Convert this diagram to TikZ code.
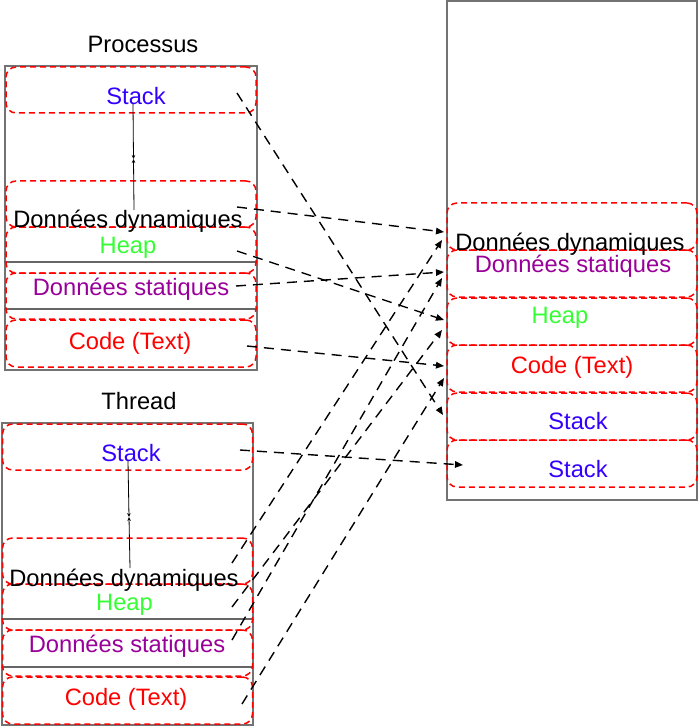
\documentclass[tikz,border=0pt]{standalone}
\usepackage{fontspec}
\setmainfont{Liberation Sans}
\usetikzlibrary{arrows.meta}
\definecolor{stk}{HTML}{3300FF}
\definecolor{hp}{HTML}{33FF33}
\definecolor{dst}{HTML}{990099}
\definecolor{cd}{HTML}{FF0000}
\begin{document}
\begin{tikzpicture}[x=1pt,y=-1pt,
  outer/.style={draw=black!55,line width=1.1pt},
  sepline/.style={draw=black!60,line width=1.1pt},
  seg/.style={draw=red,dash pattern=on 6pt off 4pt,line width=1.5pt,rounded corners=10pt,
              minimum width=250pt,inner sep=0pt,outer sep=0pt},
  lbl/.style={anchor=base,inner sep=0pt,font=\fontsize{23.7}{28}\selectfont},
  link/.style={draw=black,line width=1.4pt,dash pattern=on 10pt off 7pt,-{Triangle[length=8pt,width=6.5pt]}},
  growarrow/.style={draw=black,line width=0.8pt,-{Stealth[length=4pt,width=3.5pt]}}]
\useasboundingbox (0,0) rectangle (699,727);

% ---------------- Processus ----------------
\node[lbl] (tP) at (143,53) {Processus};
\node[outer,minimum width=252pt,minimum height=304pt,inner sep=0pt] (pBox) at (131,218) {};
\draw[sepline] (pBox.west |- 0,262) -- (pBox.east |- 0,262);
\draw[sepline] (pBox.west |- 0,309) -- (pBox.east |- 0,309);
\node[seg,minimum height=46pt] (pS) at (131,90) {};
\node[seg,minimum height=46pt] (pD) at (131,204) {};
\node[seg,minimum height=46pt] (pH) at (131,250) {};
\node[seg,minimum height=46pt] (pT) at (131,296) {};
\node[seg,minimum height=47pt] (pC) at (131,343.5) {};
\node[lbl,text=stk] (pSl) at (136,104.5) {Stack};
\node[lbl] (pDl) at (128,227) {Données dynamiques};
\node[lbl,text=hp] (pHl) at (128,253) {Heap};
\node[lbl,text=dst] (pTl) at (131,295) {Données statiques};
\node[lbl,text=cd] (pCl) at (130,349) {Code (Text)};
\coordinate (pG) at (133.5,159);
\draw[growarrow] (133,104) -- (pG);
\draw[growarrow] (134,210) -- (pG);

% ---------------- Thread ----------------
\node[lbl] (tT) at (139,409) {Thread};
\node[outer,minimum width=251pt,minimum height=302pt,inner sep=0pt] (tBox) at (127.5,574) {};
\draw[sepline] (tBox.west |- 0,619) -- (tBox.east |- 0,619);
\draw[sepline] (tBox.west |- 0,667) -- (tBox.east |- 0,667);
\node[seg,minimum height=46pt] (tS) at (127.5,447) {};
\node[seg,minimum height=46pt] (tD) at (127.5,561) {};
\node[seg,minimum height=46pt] (tH) at (127.5,607) {};
\node[seg,minimum height=46pt] (tTs) at (127.5,653) {};
\node[seg,minimum height=47pt] (tC) at (127.5,700.5) {};
\node[lbl,text=stk] (tSl) at (131,461) {Stack};
\node[lbl] (tDl) at (124,586) {Données dynamiques};
\node[lbl,text=hp] (tHl) at (124.5,610.5) {Heap};
\node[lbl,text=dst] (tTl) at (127,652) {Données statiques};
\node[lbl,text=cd] (tCl) at (126,705.5) {Code (Text)};
\coordinate (tG) at (129,517);
\draw[growarrow] (128,461) -- (tG);
\draw[growarrow] (130,568) -- (tG);

% ---------------- Right (shared address space) ----------------
\node[outer,minimum width=250pt,minimum height=499pt,inner sep=0pt] (rBox) at (572,250.5) {};
\node[seg,minimum height=47pt] (rD) at (572,226.5) {};
\node[seg,minimum height=47pt] (rT) at (572,273.5) {};
\node[seg,minimum height=47pt] (rH) at (572,321.5) {};
\node[seg,minimum height=47pt] (rC) at (572,368.5) {};
\node[seg,minimum height=47pt] (rS1) at (572,416.5) {};
\node[seg,minimum height=47pt] (rS2) at (572,463.5) {};
\node[lbl] (rDl) at (570,250) {Données dynamiques};
\node[lbl,text=dst] (rTl) at (573,272) {Données statiques};
\node[lbl,text=hp] (rHl) at (560,323) {Heap};
\node[lbl,text=cd] (rCl) at (572,373) {Code (Text)};
\node[lbl,text=stk] (rS1l) at (578,429) {Stack};
\node[lbl,text=stk] (rS2l) at (578,477.5) {Stack};

% ---------------- connectors ----------------
\coordinate (aPS) at (237,93);
\coordinate (aPD) at (237,207);
\coordinate (aPH) at (237,251);
\coordinate (aPT) at (236,286);
\coordinate (aPC) at (247,346);
\coordinate (eS1) at (443,415);
\coordinate (eD)  at (444,232);
\coordinate (eT)  at (444,272);
\coordinate (eH)  at (444,320);
\coordinate (eC)  at (444,366);

\coordinate (aTS) at (240,450);
\coordinate (aTD) at (232,563);
\coordinate (aTH) at (232,607);
\coordinate (aTT) at (232,640);
\coordinate (aTC) at (242,704);
\coordinate (fS2) at (463,465);
\coordinate (fD)  at (442,240);
\coordinate (fT)  at (442,278);
\coordinate (fH)  at (442,330);
\coordinate (fC)  at (444,378);

\draw[link] (aPS) -- (eS1);
\draw[link] (aPD) -- (eD);
\draw[link] (aPH) -- (eH);
\draw[link] (aPT) -- (eT);
\draw[link] (aPC) -- (eC);

\draw[link] (aTS) -- (fS2);
\draw[link] (aTD) -- (fD);
\draw[link] (aTH) -- (fH);
\draw[link] (aTT) -- (fT);
\draw[link] (aTC) -- (fC);
\end{tikzpicture}
\end{document}
